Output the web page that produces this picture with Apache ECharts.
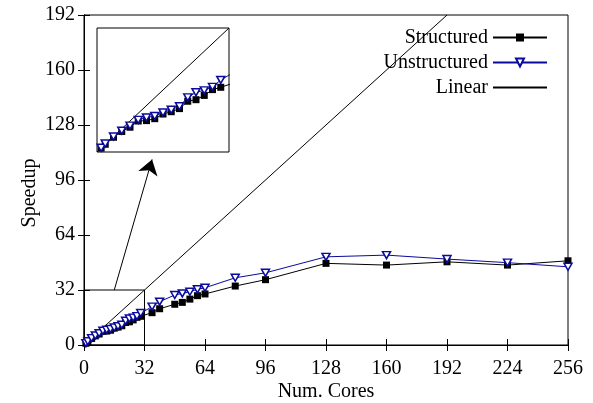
<!DOCTYPE html>
<html>
<head>
<meta charset="utf-8">
<script src="https://cdn.jsdelivr.net/npm/echarts@6/dist/echarts.min.js"></script>
<style>
  html, body { margin: 0; padding: 0; background: #fff; }
  #container { width: 593px; height: 403px; }
</style>
</head>
<body>
<div id="container"></div>
<script>
// 初始化echarts实例
var myChart = echarts.init(document.getElementById('container'));

// 数据：核数与加速比
var cores = [1, 2, 4, 6, 8, 10, 12, 14, 16, 18, 20, 22, 24, 26, 28, 30,
    36, 40, 48, 52, 56, 60, 64, 80, 96, 128, 160, 192, 224, 256];
var structured = [1.0, 2.0, 3.8, 5.3, 6.4, 8.0, 8.1, 8.6, 9.8, 10.4, 11.2, 13.1, 13.5, 14.6, 16.1, 16.7,
    18.8, 21.1, 23.7, 24.8, 26.7, 28.7, 29.7, 34.3, 38.0, 47.5, 46.5, 48.4, 46.5, 49.0];
var unstructured = [1.1, 2.2, 4.0, 5.5, 6.8, 8.3, 8.9, 9.3, 10.2, 10.9, 11.8, 14.1, 15.4, 15.9, 16.8, 18.6,
    22.3, 25.2, 29.1, 30.0, 31.0, 32.4, 33.3, 39.1, 42.0, 51.3, 52.3, 50.0, 47.9, 45.5];
var linearX = [0, 192];
// 放大区域与箭头
var zoomRange = [0, 32];
var arrowFrom = [16, 32];
var arrowTo = [36, 108];
var xTicks = [0, 256, 32];
var yTicks = [0, 192, 32];

function pairs(xs, ys) {
    var out = [];
    for (var i = 0; i < xs.length; i++) {
        out.push([xs[i], ys[i]]);
    }
    return out;
}
var structuredData = pairs(cores, structured);
var unstructuredData = pairs(cores, unstructured);
var linearData = pairs(linearX, linearX);

var font = 'Liberation Serif';
var blue = '#0a0a9c';
var triDown = 'path://M0,0 L10,0 L5,9 Z';

function structuredSeries(xi, yi) {
    return {
        name: 'Structured', type: 'line',
        xAxisIndex: xi, yAxisIndex: yi,
        data: structuredData,
        symbol: 'rect', symbolSize: 7,
        showAllSymbol: true,
        lineStyle: {color: '#000', width: 1},
        itemStyle: {color: '#000'},
        z: 3
    };
}
function unstructuredSeries(xi, yi) {
    return {
        name: 'Unstructured', type: 'line',
        xAxisIndex: xi, yAxisIndex: yi,
        data: unstructuredData,
        symbol: triDown, symbolSize: [8, 7],
        showAllSymbol: true,
        lineStyle: {color: blue, width: 1},
        itemStyle: {color: '#fff', borderColor: blue, borderWidth: 1.5},
        z: 4
    };
}

var tickStyle = {show: true, inside: true, length: 6, lineStyle: {color: '#000'}};
var labelStyle = {color: '#000', fontFamily: font, fontSize: 20};

var option = {
    animation: false,
    backgroundColor: '#fff',
    grid: [
        {left: 84, right: 25, top: 15, bottom: 58, show: true, borderColor: '#000', borderWidth: 1,
            outerBoundsMode: 'none', containLabel: false},
        {left: 97, top: 28, width: 132, height: 124, show: true, borderColor: '#000', borderWidth: 1,
            backgroundColor: '#fff', outerBoundsMode: 'none', containLabel: false}
    ],
    legend: {
        orient: 'vertical',
        right: 40, top: 22,
        align: 'right',
        itemWidth: 54, itemHeight: 10,
        itemGap: 4,
        textStyle: {color: '#000', fontFamily: font, fontSize: 20, lineHeight: 21},
        data: ['Structured', 'Unstructured', {name: 'Linear', itemStyle: {opacity: 0}}]
    },
    xAxis: [
        {
            type: 'value', gridIndex: 0, min: xTicks[0], max: xTicks[1], interval: xTicks[2],
            name: 'Num. Cores', nameLocation: 'middle', nameGap: 37, nameMoveOverlap: false,
            nameTextStyle: labelStyle,
            axisLine: {lineStyle: {color: '#000'}},
            axisTick: tickStyle,
            axisLabel: Object.assign({margin: 14}, labelStyle),
            splitLine: {show: false}
        },
        {
            type: 'value', gridIndex: 0, position: 'top', min: xTicks[0], max: xTicks[1], interval: xTicks[2],
            axisLine: {lineStyle: {color: '#000'}},
            axisTick: tickStyle, axisLabel: {show: false}, splitLine: {show: false}
        },
        {
            type: 'value', gridIndex: 1, min: zoomRange[0], max: zoomRange[1],
            show: false, splitLine: {show: false}
        }
    ],
    yAxis: [
        {
            type: 'value', gridIndex: 0, min: yTicks[0], max: yTicks[1], interval: yTicks[2],
            name: 'Speedup', nameLocation: 'middle', nameGap: 44, nameMoveOverlap: false,
            nameTextStyle: Object.assign({padding: [0, 26, 0, 0]}, labelStyle),
            axisLine: {lineStyle: {color: '#000'}},
            axisTick: tickStyle,
            axisLabel: Object.assign({margin: 9}, labelStyle),
            splitLine: {show: false}
        },
        {
            type: 'value', gridIndex: 0, position: 'right', min: yTicks[0], max: yTicks[1], interval: yTicks[2],
            axisLine: {lineStyle: {color: '#000'}},
            axisTick: tickStyle, axisLabel: {show: false}, splitLine: {show: false}
        },
        {
            type: 'value', gridIndex: 1, min: zoomRange[0], max: zoomRange[1],
            show: false, splitLine: {show: false}
        }
    ],
    series: [
        {
            name: 'Linear', type: 'line',
            xAxisIndex: 0, yAxisIndex: 0,
            data: linearData,
            showSymbol: false, symbol: 'none',
            lineStyle: {color: '#000', width: 1},
            itemStyle: {color: '#000'},
            markArea: {
                silent: true,
                itemStyle: {color: 'rgba(0,0,0,0)', borderColor: '#000', borderWidth: 1},
                data: [[{coord: [zoomRange[0], zoomRange[0]]}, {coord: [zoomRange[1], zoomRange[1]]}]]
            },
            markLine: {
                silent: true,
                symbol: ['none', 'arrow'],
                symbolSize: 15,
                label: {show: false},
                lineStyle: {color: '#000', width: 1, type: 'solid'},
                itemStyle: {color: '#000'},
                data: [[{coord: arrowFrom}, {coord: arrowTo}]]
            },
            z: 2
        },
        structuredSeries(0, 0),
        unstructuredSeries(0, 0),
        {
            name: 'Linear', type: 'line',
            xAxisIndex: 2, yAxisIndex: 2,
            data: pairs(zoomRange, zoomRange),
            showSymbol: false, symbol: 'none',
            lineStyle: {color: '#000', width: 1},
            z: 5
        },
        Object.assign(structuredSeries(2, 2), {z: 6}),
        Object.assign(unstructuredSeries(2, 2), {z: 7})
    ]
};
// 使用刚指定的配置项和数据显示图表。
myChart.setOption(option, true);

window.onresize = function () {
    myChart.resize();
};
</script>
</body>
</html>
